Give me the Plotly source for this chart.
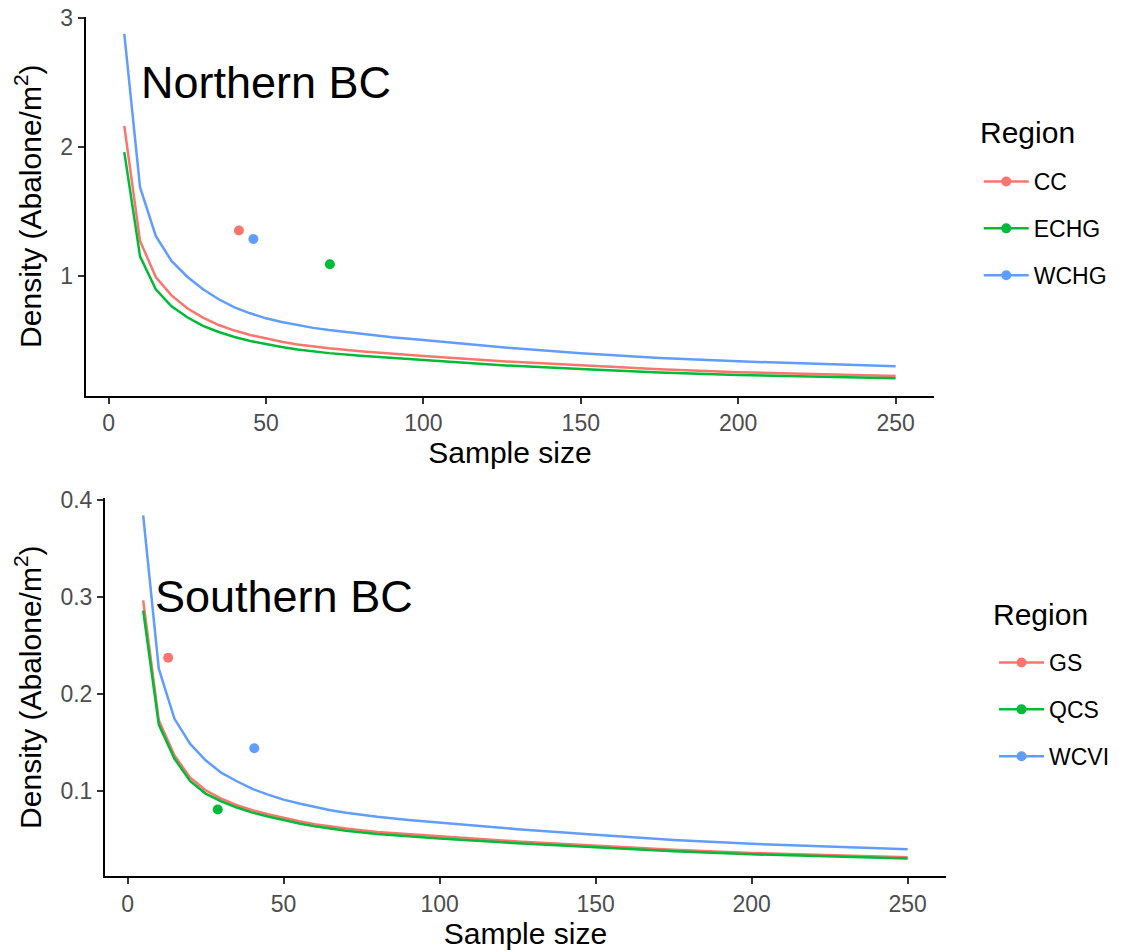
import plotly.graph_objects as go

# ---------------- data ----------------
sample_size = [5, 10, 15, 20, 25, 30, 35, 40, 45, 50, 55, 60, 65, 70, 80, 90,
               100, 125, 150, 175, 200, 225, 250]

north_regions = ["CC", "ECHG", "WCHG"]
north_cc = [2.163, 1.270, 0.990, 0.847, 0.747, 0.674, 0.617, 0.574, 0.540, 0.511,
            0.487, 0.466, 0.450, 0.436, 0.413, 0.394, 0.377, 0.336, 0.302, 0.273,
            0.251, 0.235, 0.222]
north_echg = [1.959, 1.150, 0.894, 0.762, 0.677, 0.611, 0.563, 0.524, 0.493, 0.467,
              0.446, 0.428, 0.413, 0.399, 0.378, 0.361, 0.346, 0.305, 0.275, 0.249,
              0.229, 0.215, 0.204]
north_wchg = [2.876, 1.687, 1.308, 1.114, 0.992, 0.894, 0.817, 0.754, 0.708, 0.669,
              0.640, 0.615, 0.595, 0.578, 0.548, 0.522, 0.500, 0.444, 0.398, 0.362,
              0.335, 0.315, 0.298]
north_obs_n = [41.4, 70.3, 46.0]
north_obs_density = [1.350, 1.089, 1.285]

south_regions = ["GS", "QCS", "WCVI"]
south_gs = [0.2964, 0.1728, 0.1368, 0.1138, 0.1007, 0.0921, 0.0853, 0.0801, 0.0760,
            0.0722, 0.0688, 0.0658, 0.0634, 0.0613, 0.0578, 0.0553, 0.0532, 0.0480,
            0.0434, 0.0393, 0.0360, 0.0336, 0.0317]
south_qcs = [0.2860, 0.1684, 0.1334, 0.1103, 0.0973, 0.0894, 0.0829, 0.0777, 0.0736,
             0.0698, 0.0665, 0.0636, 0.0612, 0.0590, 0.0556, 0.0531, 0.0510, 0.0460,
             0.0416, 0.0378, 0.0347, 0.0323, 0.0304]
south_wcvi = [0.3840, 0.2260, 0.1746, 0.1488, 0.1316, 0.1189, 0.1100, 0.1021, 0.0962,
              0.0911, 0.0870, 0.0835, 0.0802, 0.0775, 0.0733, 0.0700, 0.0672, 0.0606,
              0.0548, 0.0495, 0.0455, 0.0425, 0.0400]
south_obs_n = [13.0, 28.9, 40.6]
south_obs_density = [0.2374, 0.0808, 0.144]

x_ticks = [0, 50, 100, 150, 200, 250]
north_y_ticks = [1, 2, 3]
south_y_ticks = [0.1, 0.2, 0.3, 0.4]

colors = ["#F8766D", "#00BA38", "#619CFF"]
FONT = "Liberation Sans, Arial, sans-serif"
W, H = 1125, 952

fig = go.Figure()


def add_panel(regions, series, obs_n, obs_d, xa, ya, legend_name):
    for i, (reg, vals) in enumerate(zip(regions, series)):
        fig.add_trace(go.Scatter(
            x=sample_size, y=vals, mode="lines",
            line=dict(color=colors[i], width=2.5),
            showlegend=False, xaxis=xa, yaxis=ya, hoverinfo="skip"))
    for i, reg in enumerate(regions):
        fig.add_trace(go.Scatter(
            x=[obs_n[i]], y=[obs_d[i]], mode="markers",
            marker=dict(color=colors[i], size=10),
            showlegend=False, xaxis=xa, yaxis=ya))
    for i, reg in enumerate(regions):
        fig.add_trace(go.Scatter(
            x=[None], y=[None], mode="lines+markers", name=reg,
            line=dict(color=colors[i], width=2.5),
            marker=dict(color=colors[i], size=10),
            legend=legend_name, legendgroup=legend_name + reg,
            xaxis=xa, yaxis=ya))


add_panel(north_regions, [north_cc, north_echg, north_wchg],
          north_obs_n, north_obs_density, "x", "y", "legend")
add_panel(south_regions, [south_gs, south_qcs, south_wcvi],
          south_obs_n, south_obs_density, "x2", "y2", "legend2")

axis_common = dict(
    showline=True, linecolor="black", linewidth=2,
    ticks="outside", ticklen=6, tickwidth=2, tickcolor="#333333",
    tickfont=dict(family=FONT, size=23, color="#4D4D4D"),
    showgrid=False, zeroline=False, automargin=False,
)

y_title = "Density (Abalone/m<sup>2</sup>)"
title_font = dict(family=FONT, size=30, color="black")


def py(px):
    return 1 - px / H


fig.update_layout(
    width=W, height=H,
    margin=dict(l=0, r=0, t=0, b=0),
    paper_bgcolor="white", plot_bgcolor="white",
    font=dict(family=FONT, color="black"),
    xaxis=dict(domain=[0.0762, 0.8304], anchor="y", range=[-7.25, 262.25],
               tickvals=x_ticks,
               title=dict(text="Sample size", font=title_font, standoff=4),
               **axis_common),
    yaxis=dict(domain=[0.5844, 0.9825], anchor="x", range=[0.069, 3.010],
               tickvals=north_y_ticks,
               title=dict(text=y_title, font=title_font, standoff=10),
               **axis_common),
    xaxis2=dict(domain=[0.0933, 0.8408], anchor="y2", range=[-7.25, 262.25],
                tickvals=x_ticks,
                title=dict(text="Sample size", font=title_font, standoff=4),
                **axis_common),
    yaxis2=dict(domain=[0.0798, 0.4766], anchor="x2", range=[0.0123, 0.4017],
                tickvals=south_y_ticks, tickformat=".1f",
                title=dict(text=y_title, font=title_font, standoff=10),
                **axis_common),
    legend=dict(font=dict(family=FONT, size=23, color="black"),
                x=0.870, y=py(160), xanchor="left", yanchor="top",
                itemwidth=45, tracegroupgap=14, bgcolor="rgba(0,0,0,0)"),
    legend2=dict(font=dict(family=FONT, size=23, color="black"),
                 x=0.8836, y=py(641), xanchor="left", yanchor="top",
                 itemwidth=45, tracegroupgap=14, bgcolor="rgba(0,0,0,0)"),
    annotations=[
        dict(text="Northern BC", x=50, y=2.5, xref="x", yref="y", showarrow=False,
             font=dict(size=45, color="black", family=FONT),
             xanchor="center", yanchor="middle"),
        dict(text="Southern BC", x=50, y=0.3, xref="x2", yref="y2", showarrow=False,
             font=dict(size=45, color="black", family=FONT),
             xanchor="center", yanchor="middle"),
        dict(text="Region", x=978 / W, y=py(133), xref="paper", yref="paper",
             showarrow=False, font=title_font, xanchor="left", yanchor="middle"),
        dict(text="Region", x=991 / W, y=py(614), xref="paper", yref="paper",
             showarrow=False, font=title_font, xanchor="left", yanchor="middle"),
    ],
)

fig.write_html("out.html")
